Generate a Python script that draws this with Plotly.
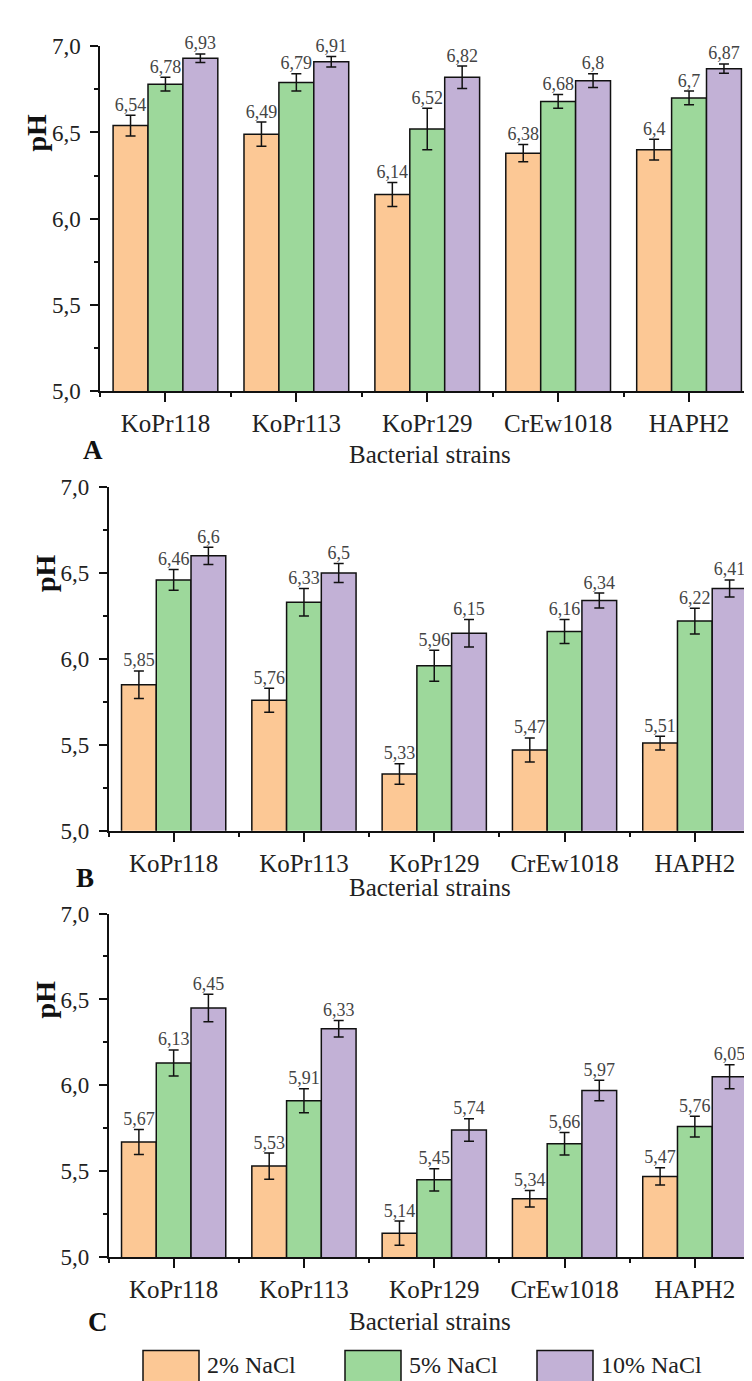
import plotly.graph_objects as go

# ---------------- data ----------------
strains = ["KoPr118", "KoPr113", "KoPr129", "CrEw1018", "HAPH2"]
series_names = ["2% NaCl", "5% NaCl", "10% NaCl"]

# Panel A
a_2 = [6.54, 6.49, 6.14, 6.38, 6.40]
a_5 = [6.78, 6.79, 6.52, 6.68, 6.70]
a_10 = [6.93, 6.91, 6.82, 6.80, 6.87]
a_2_err = [0.06, 0.07, 0.07, 0.05, 0.06]
a_5_err = [0.04, 0.05, 0.12, 0.04, 0.04]
a_10_err = [0.025, 0.03, 0.065, 0.04, 0.027]

# Panel B
b_2 = [5.85, 5.76, 5.33, 5.47, 5.51]
b_5 = [6.46, 6.33, 5.96, 6.16, 6.22]
b_10 = [6.60, 6.50, 6.15, 6.34, 6.41]
b_2_err = [0.08, 0.07, 0.06, 0.07, 0.04]
b_5_err = [0.06, 0.08, 0.09, 0.07, 0.075]
b_10_err = [0.05, 0.055, 0.08, 0.043, 0.05]

# Panel C
c_2 = [5.67, 5.53, 5.14, 5.34, 5.47]
c_5 = [6.13, 5.91, 5.45, 5.66, 5.76]
c_10 = [6.45, 6.33, 5.74, 5.97, 6.05]
c_2_err = [0.073, 0.076, 0.07, 0.048, 0.05]
c_5_err = [0.076, 0.07, 0.065, 0.065, 0.06]
c_10_err = [0.08, 0.048, 0.065, 0.06, 0.07]

panel_letters = ["A", "B", "C"]
x_title = "Bacterial strains"
y_title = "pH"

# ---------------- styling ----------------
W, H = 752, 1381
colors = ["#FCC895", "#9DD89B", "#C2B1D6"]
FONT = "Liberation Serif, Times New Roman, serif"
BARGAP = 0.2

panels = [
    dict(vals=[a_2, a_5, a_10], errs=[a_2_err, a_5_err, a_10_err],
         ypx=(26.7, 378), xpx=(92, 746.5), letter=(85, 438), title_y=443, ph_x=28),
    dict(vals=[b_2, b_5, b_10], errs=[b_2_err, b_5_err, b_10_err],
         ypx=(475.7, 825.7), xpx=(100.5, 752), letter=(77, 874), title_y=884, ph_x=37),
    dict(vals=[c_2, c_5, c_10], errs=[c_2_err, c_5_err, c_10_err],
         ypx=(910, 1260), xpx=(100.5, 752), letter=(90, 1326), title_y=1326, ph_x=37),
]


def fmt(v):
    s = ("%.2f" % v).rstrip("0").rstrip(".")
    return s.replace(".", ",")


fig = go.Figure()
xs = list(range(len(strains)))
n = len(series_names)
bw = (1 - BARGAP) / n

annotations = []
for p_i, p in enumerate(panels):
    suffix = "" if p_i == 0 else str(p_i + 1)
    xa, ya = "x" + suffix, "y" + suffix
    for s_i in range(n):
        vals = p["vals"][s_i]
        errs = p["errs"][s_i]
        fig.add_trace(go.Bar(
            x=xs, y=vals, name=series_names[s_i], xaxis=xa, yaxis=ya,
            marker=dict(color=colors[s_i], line=dict(color="#111", width=1.5)),
            error_y=dict(type="data", array=errs, visible=True, color="#111",
                         thickness=1.5, width=5),
            showlegend=False, offsetgroup=str(s_i),
        ))
        off = (s_i - (n - 1) / 2) * bw
        fig.add_trace(go.Scatter(
            x=[x + off for x in xs], y=[v + e for v, e in zip(vals, errs)],
            mode="text", text=[fmt(v) for v in vals], textposition="top center",
            textfont=dict(family=FONT, size=18, color="#444"),
            xaxis=xa, yaxis=ya, showlegend=False, cliponaxis=False, hoverinfo="skip",
        ))

    y0, y1 = p["ypx"]
    x0, x1 = p["xpx"]
    xkey = "xaxis" if p_i == 0 else "xaxis" + suffix
    ykey = "yaxis" if p_i == 0 else "yaxis" + suffix
    fig.layout[xkey] = dict(
        domain=[x0 / W, x1 / W], anchor=ya, range=[-0.5, 4.5],
        tickmode="array", tickvals=xs, ticktext=strains,
        ticks="outside", ticklen=9, tickwidth=1.5, tickcolor="#111",
        minor=dict(tick0=0.5, dtick=1, ticks="outside", ticklen=4, tickwidth=1.5, tickcolor="#111"),
        showline=True, linecolor="#111", linewidth=1.5, showgrid=False, zeroline=False,
        tickfont=dict(family=FONT, size=25, color="#222"),
    )
    fig.layout[ykey] = dict(
        domain=[1 - y1 / H, 1 - y0 / H], anchor=xa, range=[5, 7],
        dtick=0.5, tick0=5, tickformat=".1f",
        ticks="outside", ticklen=8, tickwidth=1.5, tickcolor="#111",
        minor=dict(dtick=0.25, ticks="outside", ticklen=4, tickwidth=1.5, tickcolor="#111"),
        showline=True, linecolor="#111", linewidth=1.5, showgrid=False, zeroline=False,
        tickfont=dict(family=FONT, size=23, color="#222"), ticklabelstandoff=5,
    )
    lx, ly = p["letter"]
    annotations.append(dict(text="<b>%s</b>" % panel_letters[p_i], xref="paper", yref="paper",
                            x=lx / W, y=1 - ly / H, showarrow=False, xanchor="center", yanchor="middle",
                            font=dict(family=FONT, size=27, color="#111")))
    annotations.append(dict(text=x_title, xref="paper", yref="paper",
                            x=422 / W, y=1 - p["title_y"] / H, showarrow=False,
                            xanchor="center", yanchor="middle",
                            font=dict(family=FONT, size=25, color="#222")))
    annotations.append(dict(text="<b>%s</b>" % y_title, xref="paper", yref=ya,
                            x=p["ph_x"] / W, y=6.5, showarrow=False, textangle=-90,
                            xanchor="center", yanchor="middle",
                            font=dict(family=FONT, size=28, color="#111")))

# legend (swatches + labels)
shapes = []
leg_left = [135, 337, 529]
for s_i in range(n):
    shapes.append(dict(type="rect", xref="paper", yref="paper",
                       x0=leg_left[s_i] / W, x1=(leg_left[s_i] + 56) / W,
                       y0=1 - 1392 / H, y1=1 - 1355 / H,
                       fillcolor=colors[s_i], line=dict(color="#111", width=1.5)))
    annotations.append(dict(text=series_names[s_i], xref="paper", yref="paper",
                            x=(leg_left[s_i] + 62) / W, y=1 - 1370 / H, showarrow=False,
                            xanchor="left", yanchor="middle",
                            font=dict(family=FONT, size=24, color="#222")))

fig.update_layout(
    width=W, height=H, margin=dict(l=0, r=0, t=0, b=0),
    paper_bgcolor="white", plot_bgcolor="white",
    barmode="group", bargap=BARGAP, bargroupgap=0,
    separators=",.", showlegend=False,
    annotations=annotations, shapes=shapes,
    font=dict(family=FONT),
)

fig.write_html("out.html")
